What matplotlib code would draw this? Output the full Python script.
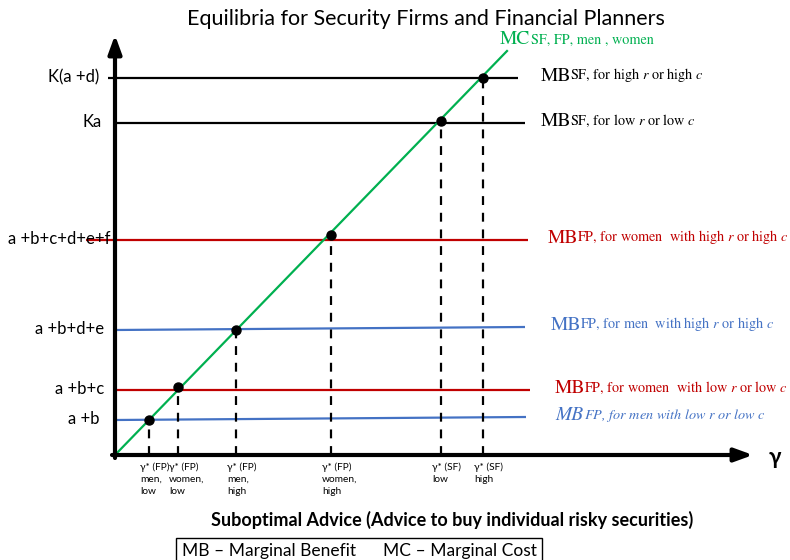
import matplotlib
matplotlib.use("Agg")
import matplotlib.pyplot as plt

plt.rcParams['font.family'] = ['Lato', 'DejaVu Sans']
plt.rcParams['mathtext.fontset'] = 'stix'

# ---------------- data (chart units: origin at the axes corner) ----------------
title = "Equilibria for Security Firms and Financial Planners"
xlabel = "Suboptimal Advice (Advice to buy individual risky securities)"
legend_text = "MB – Marginal Benefit      MC – Marginal Cost"

# marginal cost line (start, end)
mc_x = [0, 392]
mc_y = [0, 404]
mc_main = "MC"
mc_sub = "SF, FP, men , women"

# marginal benefit levels: value at left end and at right end
mb_names = ["K(a +d)", "Ka", "a +b+c+d+e+f", "a +b+d+e", "a +b+c", "a +b"]
mb_left = [377, 332, 215, 125, 65, 35]
mb_right = [377, 332, 215, 128, 65, 38]
mb_start = [-7, 0, -29, 0, 0, 0]
mb_end = [403, 410, 413, 410, 415, 411]
mb_colors = ["black", "black", "#C00000", "#4472C4", "#C00000", "#4472C4"]
mb_main = ["MB", "MB", "MB", "MB", "MB", "MB"]
mb_sub = [
    r"SF, for high $r$ or high $c$",
    r"SF, for low $r$ or low $c$",
    r"FP, for women  with high $r$ or high $c$",
    r"FP, for men  with high $r$ or high $c$",
    r"FP, for women  with low $r$ or low $c$",
    r"FP, for men with low $r$ or low $c$",
]
mb_italic = [False, False, False, False, False, True]
mb_label_x = [426, 426, 433, 436, 440, 440]

# equilibria (gamma*, level)
eq_gamma = [368, 326, 216, 121, 63, 34]
eq_value = [377, 334, 220, 125, 68, 35]
eq_labels = ["γ* (SF)\nhigh", "γ* (SF)\nlow", "γ* (FP)\nwomen,\nhigh",
             "γ* (FP)\nmen,\nhigh", "γ* (FP)\nwomen,\nlow", "γ* (FP)\nmen,\nlow"]

# ---------------- figure ----------------
fig = plt.figure(figsize=(7.9, 5.6), dpi=100)
ax = fig.add_axes([0, 0, 1, 1])
ax.set_xlim(-115, 675)
ax.set_ylim(-105, 455)
ax.axis('off')


def sub_label(x, y, main, sub, color, italic=False):
    style = 'italic' if italic else 'normal'
    t = ax.text(x, y, main, color=color, fontsize=14, fontfamily='STIXGeneral',
                fontstyle=style, ha='left', va='center')
    dx = -1 if ('$' in sub and not italic) else 0.5
    ax.annotate(sub, xy=(1, 0), xycoords=t, xytext=(dx, 0.5), textcoords='offset points',
                color=color, fontsize=10.3, fontfamily='STIXGeneral', fontstyle=style,
                ha='left', va='bottom')


# MB lines
for yl, yr, xs, xe, c, m, s, it, lx in zip(mb_left, mb_right, mb_start, mb_end,
                                           mb_colors, mb_main, mb_sub, mb_italic,
                                           mb_label_x):
    ax.plot([xs, xe], [yl, yr], color=c, lw=1.6, solid_capstyle='butt', zorder=2)
    sub_label(lx, yr + 2, m, s, c, it)

# y labels
ylab_off = [-16, -13, -5, -11, -11, -15]
for n, yl, off in zip(mb_names, mb_left, ylab_off):
    ax.text(off, yl + 1, n, fontsize=12, ha='right', va='center', color='black')

# MC line
ax.plot(mc_x, mc_y, color="#00B050", lw=1.6, zorder=3)
sub_label(mc_x[1] - 7, mc_y[1] + 12, mc_main, mc_sub, "#00B050")

# equilibria: dashed drops + dots + labels
for g, v, lab in zip(eq_gamma, eq_value, eq_labels):
    ax.plot([g, g], [0, v], color='black', lw=1.6, ls=(0, (4, 3.5)), zorder=2)
    ax.plot([g], [v], 'o', color='black', ms=6.5, zorder=5)
    ax.text(g - 9, -7, lab, fontsize=7.3, ha='left', va='top', linespacing=1.45)

# axes with arrows
ax.annotate('', xy=(638, 0), xytext=(-3, 0),
            arrowprops=dict(arrowstyle='-|>,head_length=1.1,head_width=0.4',
                            lw=3, color='black', shrinkA=0, shrinkB=0), zorder=6)
ax.annotate('', xy=(0, 420), xytext=(0, -3),
            arrowprops=dict(arrowstyle='-|>,head_length=1.1,head_width=0.4',
                            lw=3, color='black', shrinkA=0, shrinkB=0), zorder=6)
ax.text(660, -2, "γ", fontsize=16, fontweight='bold', ha='center', va='center')

# titles
fig.text(426 / 790, 1 - 19 / 560, title, fontsize=15.5, ha='center', va='center')
fig.text(452 / 790, 1 - 520 / 560, xlabel, fontsize=13, fontweight='bold',
         ha='center', va='center')
fig.text(359 / 790, 1 - 551 / 560, legend_text, fontsize=12.5, ha='center', va='center',
         bbox=dict(boxstyle='square,pad=0.3', fc='white', ec='black', lw=1))

fig.savefig("out.png", dpi=100)
